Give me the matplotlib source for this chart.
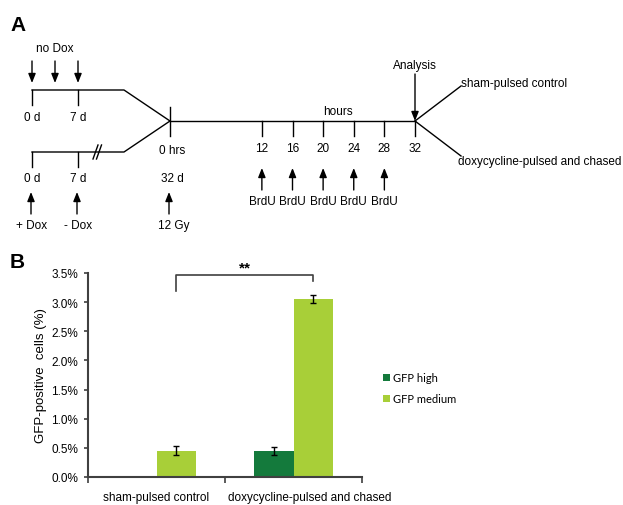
import numpy as np
import matplotlib
matplotlib.use("Agg")
import matplotlib.pyplot as plt

plt.rcParams["font.family"] = ["Liberation Sans", "DejaVu Sans"]

# panel A: timeline schematic
nodox_days = [0, 3.5, 7]          # "no Dox" arrows
day_ticks = [0, 7]
day_labels = ["0 d", "7 d"]
dox_labels = ["+ Dox", "- Dox"]
hour_ticks = [12, 16, 20, 24, 28, 32]
brdu_hours = [12, 16, 20, 24, 28]

# panel B: bar data (% GFP-positive cells)
categories = ["sham-pulsed control", "doxycycline-pulsed and chased"]
gfp_high = [0.0, 0.45]
gfp_high_err = [0.0, 0.07]
gfp_medium = [0.45, 3.05]
gfp_medium_err = [0.075, 0.07]
yticks = [0.0, 0.5, 1.0, 1.5, 2.0, 2.5, 3.0, 3.5]

DARK = "#147a3c"
LIGHT = "#a8cf38"
AX = "#404040"

W, H = 623, 506
fig = plt.figure(figsize=(W / 100, H / 100), dpi=100)

# overlay axes in pixel units for the schematic
ax_a = fig.add_axes([0, 0, 1, 1])
ax_a.set_xlim(0, W)
ax_a.set_ylim(H, 0)
ax_a.axis("off")

X_DAY0, PX_DAY = 32, 46 / 7
X_HR0, PX_HR = 170, 245 / 32
Y_TOP, Y_BOT, Y_MAIN = 91, 153, 122


def dx(d):
    return X_DAY0 + d * PX_DAY


def hx(h):
    return X_HR0 + h * PX_HR


def arrow(x, y_tail, y_tip):
    ax_a.annotate("", xy=(x, y_tip), xytext=(x, y_tail),
                  arrowprops=dict(arrowstyle="-|>,head_length=0.55,head_width=0.22",
                                  lw=1.0, color="black", shrinkA=0, shrinkB=0))


fs = 8.5
line_kw = dict(color="black", lw=1.0)

ax_a.text(10, 25, "A", fontsize=15, fontweight="bold", ha="left", va="center")
ax_a.text(10, 262, "B", fontsize=15, fontweight="bold", ha="left", va="center")

# top branch (no Dox)
ax_a.text(dx(3.5), 49, "no Dox", fontsize=fs, ha="center", va="center")
for d in nodox_days:
    arrow(dx(d), 62, 84)
ax_a.plot([dx(0), 124, X_HR0], [Y_TOP, Y_TOP, Y_MAIN], **line_kw)
for d, lab in zip(day_ticks, day_labels):
    ax_a.plot([dx(d), dx(d)], [Y_TOP, Y_TOP + 15], **line_kw)
    ax_a.text(dx(d), 118, lab, fontsize=fs, ha="center", va="center")

# bottom branch (Dox pulse)
ax_a.plot([dx(0), 124, X_HR0], [Y_BOT, Y_BOT, Y_MAIN], **line_kw)
for off in (0, 3.5):
    ax_a.plot([93 + off, 98 + off], [160, 146], **line_kw)
for d, lab, dlab in zip(day_ticks, day_labels, dox_labels):
    ax_a.plot([dx(d), dx(d)], [Y_BOT, Y_BOT + 15], **line_kw)
    ax_a.text(dx(d), 179, lab, fontsize=fs, ha="center", va="center")
    arrow(dx(d) - 1, 215, 193)
    ax_a.text(dx(d), 226, dlab, fontsize=fs, ha="center", va="center")

# irradiation / time zero
ax_a.plot([X_HR0, X_HR0], [108, 137], **line_kw)
ax_a.text(X_HR0 + 2, 151, "0 hrs", fontsize=fs, ha="center", va="center")
ax_a.text(X_HR0 + 2, 179, "32 d", fontsize=fs, ha="center", va="center")
arrow(X_HR0 - 1, 215, 193)
ax_a.text(X_HR0 + 4, 226, "12 Gy", fontsize=fs, ha="center", va="center")

# hours axis
ax_a.plot([hx(0), hx(32)], [Y_MAIN, Y_MAIN], **line_kw)
ax_a.text(hx(22), 112, "hours", fontsize=fs, ha="center", va="center")
for h in hour_ticks:
    ax_a.plot([hx(h), hx(h)], [Y_MAIN, Y_MAIN + 15], **line_kw)
    ax_a.text(hx(h), 149, str(h), fontsize=fs, ha="center", va="center")
for h in brdu_hours:
    arrow(hx(h), 191, 169)
    ax_a.text(hx(h), 202, "BrdU", fontsize=fs, ha="center", va="center")

# analysis and split
ax_a.text(hx(32), 66, "Analysis", fontsize=fs, ha="center", va="center")
arrow(hx(32), 75, Y_MAIN)
ax_a.plot([hx(32), 461], [Y_MAIN, 87], **line_kw)
ax_a.plot([hx(32), 461], [Y_MAIN, 157], **line_kw)
ax_a.text(461, 84, "sham-pulsed control", fontsize=fs, ha="left", va="center")
ax_a.text(458, 162, "doxycycline-pulsed and chased", fontsize=fs, ha="left", va="center")

# panel B: bar chart
ax = fig.add_axes([88 / W, 1 - 478 / H, (362 - 88) / W, (478 - 274) / H])
x = np.arange(len(categories))
bw = 0.285
high = np.array(gfp_high)
has_high = high > 0
ax.bar(x[has_high] - bw / 2, high[has_high], bw, color=DARK, label="GFP high")
ax.errorbar(x[has_high] - bw / 2, high[has_high], yerr=np.array(gfp_high_err)[has_high],
            fmt="none", ecolor="black", elinewidth=1, capsize=2.5, capthick=1)
ax.bar(x + bw / 2, gfp_medium, bw, color=LIGHT, label="GFP medium")
ax.errorbar(x + bw / 2, gfp_medium, yerr=gfp_medium_err,
            fmt="none", ecolor="black", elinewidth=1, capsize=2.5, capthick=1)

ax.set_xlim(-0.5, 1.5)
ax.set_ylim(0, 3.5)
ax.set_yticks(yticks)
ax.set_yticklabels([f"{v:.1f}%" for v in yticks])
ax.set_xticks([-0.5, 0.5, 1.5])
ax.set_xticklabels([])
ax.tick_params(axis="x", which="major", length=4, width=1.2, color=AX)
ax.tick_params(axis="y", length=3, width=1.2, color=AX, labelsize=8.5, pad=4)
# category labels sit under the groups (second one shifted right as in the original)
label_x = [x[0], x[1] + 0.12]
for lx, cat in zip(label_x, categories):
    ax.text(lx, -0.068, cat, fontsize=8.5, ha="center", va="top",
            transform=ax.get_xaxis_transform())
for s in ("top", "right"):
    ax.spines[s].set_visible(False)
for s in ("left", "bottom"):
    ax.spines[s].set_color(AX)
    ax.spines[s].set_linewidth(1.5)
ax.set_ylabel("GFP-positive  cells (%)", fontsize=9.5, labelpad=3)

# significance bracket
x_l, x_r = x[0] + bw / 2, x[1] + bw / 2
ax.plot([x_l, x_l, x_r, x_r], [3.19, 3.47, 3.47, 3.36], color=AX, lw=1.2, clip_on=False)
ax.text((x_l + x_r) / 2, 3.47, "**", fontsize=11, fontweight="bold", ha="center", va="bottom")

ax.legend(loc="center left", bbox_to_anchor=(373 / W, 1 - 389 / H), bbox_transform=fig.transFigure,
          frameon=False, handlelength=0.6, handleheight=0.6, handletextpad=0.3, labelspacing=0.9,
          prop={"family": "Lato", "size": 8})

fig.savefig("out.png", dpi=100)
